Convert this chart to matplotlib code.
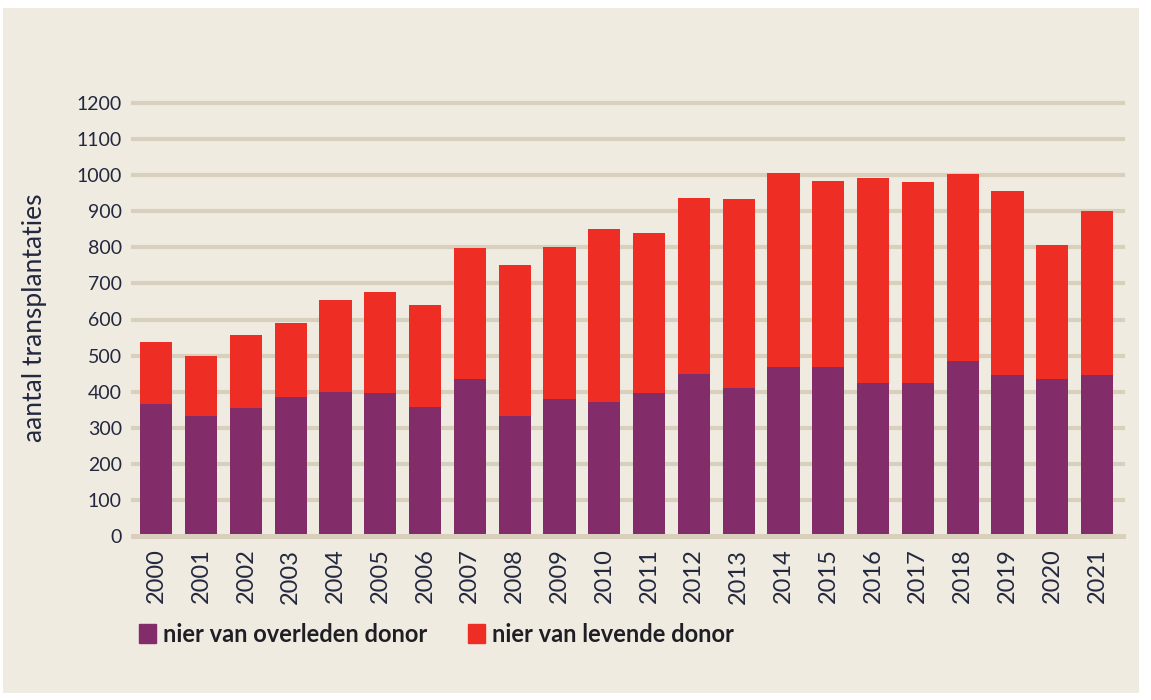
import matplotlib
matplotlib.use("Agg")
import matplotlib.pyplot as plt
from matplotlib.patches import Rectangle, Patch

years = [str(y) for y in range(2000, 2022)]
overleden = [367, 333, 356, 386, 400, 397, 358, 436, 333, 381, 372,
             397, 450, 411, 469, 469, 425, 425, 486, 447, 436, 447]
totaal = [539, 500, 556, 589, 653, 675, 639, 797, 750, 800, 850,
          839, 936, 933, 1006, 983, 992, 981, 1003, 956, 806, 900]
levend = [t - o for t, o in zip(totaal, overleden)]
yticks = list(range(0, 1201, 100))

PURPLE = "#832C6A"
RED = "#EE2E24"
BG = "#EFEBE1"
GRID = "#D8CFBD"
TXT = "#23283F"

plt.rcParams["font.family"] = ["Lato", "DejaVu Sans"]

fig = plt.figure(figsize=(11.51, 7.0), dpi=100, facecolor="white")
fig.patches.append(Rectangle((3 / 1151, 7 / 700), 1136 / 1151, 685 / 700,
                             transform=fig.transFigure, facecolor=BG,
                             edgecolor="none", zorder=-10))

ax = fig.add_axes([133 / 1151, 164 / 700, 990 / 1151, 433 / 700])
ax.set_facecolor("none")

x = list(range(len(years)))
ax.bar(x, overleden, width=0.72, color=PURPLE, zorder=2)
ax.bar(x, levend, bottom=overleden, width=0.72, color=RED, zorder=2)

for v in yticks[1:]:
    ax.axhline(v, color=GRID, lw=3, zorder=1, clip_on=False)
ax.axhline(0, color=GRID, lw=3.6, zorder=3, clip_on=False)

ax.set_xlim(-0.52, 21.58)
ax.set_ylim(0, 1200)
ax.set_yticks(yticks)
ax.set_yticklabels([str(v) for v in yticks], fontsize=14, color=TXT)
ax.set_xticks(x)
ax.set_xticklabels(years, rotation=90, fontsize=17, color=TXT,
                   va="top", ha="center")
ax.tick_params(length=0, axis="y", pad=8)
ax.tick_params(length=0, axis="x", pad=9)
for s in ax.spines.values():
    s.set_visible(False)

fig.text(35 / 1151, 0.546, "aantal transplantaties", rotation=90,
         ha="center", va="center", fontsize=19, color=TXT)

handles = [Patch(color=PURPLE, label="nier van overleden donor"),
           Patch(color=RED, label="nier van levende donor")]
leg = fig.legend(handles=handles, loc="center left",
                 bbox_to_anchor=(139 / 1151, 66 / 700), ncol=2, frameon=False,
                 handlelength=0.7, handleheight=0.85, handletextpad=0.3,
                 columnspacing=1.75, borderpad=0, borderaxespad=0,
                 prop={"size": 17, "weight": "bold"})
for t in leg.get_texts():
    t.set_color("#1E1E24")

fig.savefig("out.png", dpi=100, facecolor="white")
